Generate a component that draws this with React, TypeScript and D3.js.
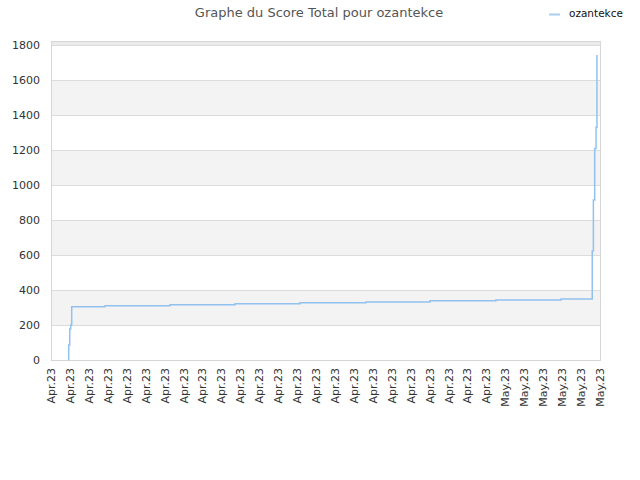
import React, { useRef, useEffect } from 'react';
import * as d3 from 'd3';

const seriesName = 'ozantekce';
const chartTitle = 'Graphe du Score Total pour ozantekce';

// timestamps of each score change (local time)
const scoreDates = [
    '2023-04-07T22:20', '2023-04-07T22:26', '2023-04-07T23:43', '2023-04-08T00:59',
    '2023-04-08T02:15', '2023-04-09T20:28', '2023-04-13T06:52', '2023-04-16T17:17',
    '2023-04-20T03:36', '2023-04-23T15:22', '2023-04-27T00:29', '2023-04-30T12:00',
    '2023-05-03T22:34', '2023-05-05T14:10', '2023-05-05T15:36', '2023-05-05T17:17',
    '2023-05-05T19:00', '2023-05-05T20:10',
];
const scoreValues = [
    0, 86, 177, 200,
    305, 310, 316, 321,
    327, 332, 338, 343,
    349, 623, 914, 1209,
    1330, 1743,
];

const xStart = '2023-04-07';
const xEnd = '2023-05-06';
const yTicks = [0, 200, 400, 600, 800, 1000, 1200, 1400, 1600, 1800];
const yMax = 1823;

const App: React.FC = () => {
    const ref = useRef<SVGSVGElement | null>(null);

    useEffect(() => {
        if (!ref.current) return;
        const svg = d3.select(ref.current);
        svg.selectAll('*').remove();

        const width = 640;
        const height = 480;
        const left = 51;
        const right = 600;
        const top = 41;
        const bottom = 360;
        const font = '"DejaVu Sans", sans-serif';

        const parse = d3.timeParse('%Y-%m-%dT%H:%M');
        const parseDay = d3.timeParse('%Y-%m-%d');
        const data = scoreDates.map((d, i) => ({ date: parse(d) as Date, value: scoreValues[i] }));

        const x = d3.scaleTime()
            .domain([parseDay(xStart) as Date, parseDay(xEnd) as Date])
            .range([left, right]);
        const y = d3.scaleLinear().domain([0, yMax]).range([bottom, top]);

        svg.attr('width', width).attr('height', height);

        // ─── background bands ───────────────────────────────────────────
        const bandEdges = [...yTicks, yMax];
        const bands = svg.append('g');
        for (let i = 0; i < bandEdges.length - 1; i++) {
            bands.append('rect')
                .attr('x', left)
                .attr('width', right - left)
                .attr('y', y(bandEdges[i + 1]))
                .attr('height', y(bandEdges[i]) - y(bandEdges[i + 1]))
                .attr('fill', i % 2 === 1 ? '#f3f3f3' : '#ffffff');
        }
        // top strip
        bands.append('rect')
            .attr('x', left).attr('width', right - left)
            .attr('y', y(yMax)).attr('height', y(1800) - y(yMax))
            .attr('fill', '#ebebeb');

        // grid lines
        svg.append('g')
            .selectAll('line')
            .data(yTicks)
            .enter()
            .append('line')
            .attr('x1', left)
            .attr('x2', right)
            .attr('y1', d => y(d) + 0.5)
            .attr('y2', d => y(d) + 0.5)
            .attr('stroke', '#dcdcdc')
            .attr('stroke-width', 1);

        // frame
        svg.append('rect')
            .attr('x', left + 0.5)
            .attr('y', top + 0.5)
            .attr('width', right - left)
            .attr('height', bottom - top)
            .attr('fill', 'none')
            .attr('stroke', '#d6d6d6');

        // ─── y axis labels ──────────────────────────────────────────────
        svg.append('g')
            .selectAll('text')
            .data(yTicks)
            .enter()
            .append('text')
            .attr('x', left - 11)
            .attr('y', d => y(d) + 4)
            .attr('text-anchor', 'end')
            .style('font-family', font)
            .style('font-size', '11px')
            .style('fill', '#333')
            .text(d => String(d));

        // ─── x axis labels ──────────────────────────────────────────────
        const days = d3.timeDay.range(parseDay(xStart) as Date, d3.timeDay.offset(parseDay(xEnd) as Date, 1));
        const fmtMonth = d3.timeFormat('%b');
        const fmtYear = d3.timeFormat('%y');
        svg.append('g')
            .selectAll('text')
            .data(days)
            .enter()
            .append('text')
            .attr('transform', d => `translate(${x(d) + 4},${bottom + 8}) rotate(-90)`)
            .attr('text-anchor', 'end')
            .style('font-family', font)
            .style('font-size', '11px')
            .style('fill', '#333')
            .text(d => `${fmtMonth(d)}.${fmtYear(d)}`);

        // ─── score line ─────────────────────────────────────────────────
        const line = d3.line<{ date: Date; value: number }>()
            .x(d => x(d.date))
            .y(d => y(d.value))
            .curve(d3.curveStepAfter);

        svg.append('path')
            .datum(data)
            .attr('d', line)
            .attr('fill', 'none')
            .attr('stroke', '#92c1f0')
            .attr('stroke-width', 1.5);

        // ─── title & legend ─────────────────────────────────────────────
        svg.append('text')
            .attr('x', 319)
            .attr('y', 17)
            .attr('text-anchor', 'middle')
            .style('font-family', font)
            .style('font-size', '13px')
            .style('fill', '#555')
            .text(chartTitle);

        svg.append('line')
            .attr('x1', 549).attr('x2', 560)
            .attr('y1', 14.5).attr('y2', 14.5)
            .attr('stroke', '#a8cef5')
            .attr('stroke-width', 2);

        svg.append('text')
            .attr('x', 569)
            .attr('y', 17)
            .style('font-family', font)
            .style('font-size', '10.5px')
            .style('fill', '#111')
            .text(seriesName);
    }, []);

    return <svg ref={ref} style={{ position: 'absolute', left: 0, top: 0 }} />;
};

export default App;
